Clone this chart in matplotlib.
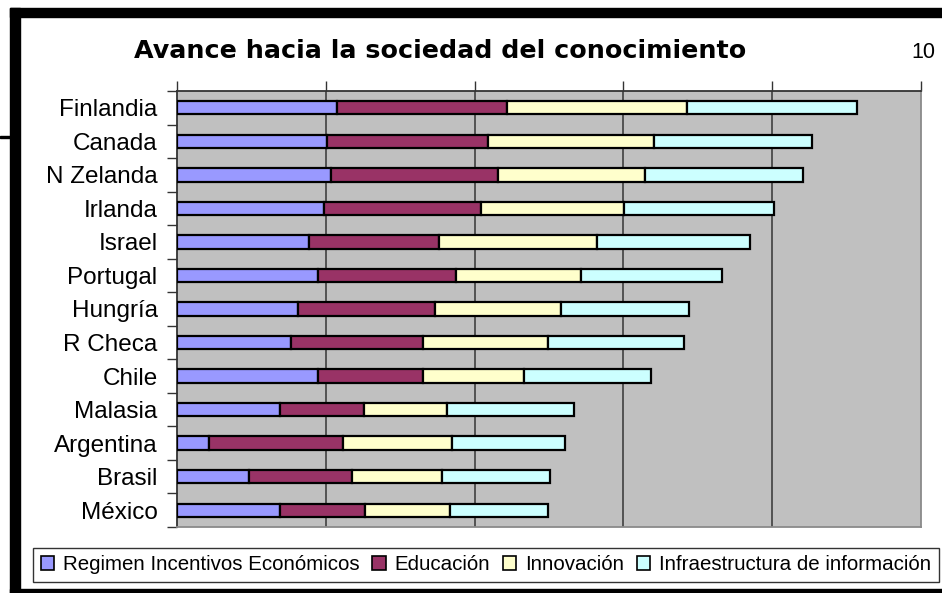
import numpy as np
import matplotlib.pyplot as plt
from matplotlib.patches import Rectangle, Patch
from matplotlib.ticker import MultipleLocator

plt.rcParams['font.family'] = ['Liberation Sans', 'DejaVu Sans']

countries = ["Finlandia", "Canada", "N Zelanda", "Irlanda", "Israel", "Portugal",
             "Hungría", "R Checa", "Chile", "Malasia", "Argentina", "Brasil", "México"]
# segment sizes
incentivos = [21.5, 20.2, 20.7, 19.8, 17.7, 18.9, 16.3, 15.3, 18.9, 13.9, 4.3, 9.7, 13.9]
educacion = [22.9, 21.6, 22.4, 21.0, 17.5, 18.6, 18.4, 17.7, 14.1, 11.3, 18.0, 13.8, 11.4]
innovacion = [24.1, 22.3, 19.8, 19.3, 21.3, 16.8, 16.9, 16.9, 13.7, 11.1, 14.7, 12.1, 11.4]
infraestructura = [22.9, 21.2, 21.2, 20.2, 20.5, 18.9, 17.2, 18.2, 17.0, 17.1, 15.2, 14.5, 13.2]

series = [incentivos, educacion, innovacion, infraestructura]
names = ["Regimen Incentivos Económicos", "Educación", "Innovación",
         "Infraestructura de información"]
colors = ["#9999ff", "#993366", "#ffffcc", "#ccffff"]

fig = plt.figure(figsize=(9.42, 5.93), dpi=100)

# black frame bits of the screenshot
fig.patches.append(Rectangle((10/942, 0), 10/942, 1 - 8/593, transform=fig.transFigure,
                             color='black', zorder=0))
fig.patches.append(Rectangle((10/942, 1 - 17/593), 1, 9/593, transform=fig.transFigure,
                             color='black', zorder=0))
fig.patches.append(Rectangle((10/942, 0), 1, 4/593, transform=fig.transFigure,
                             color='black', zorder=0))
fig.patches.append(Rectangle((0, 1 - 138/593), 10/942, 2/593, transform=fig.transFigure,
                             color='black', zorder=0))

ax = fig.add_axes([177/942, 1 - 527/593, 744/942, 436/593])
ax.set_facecolor('#c0c0c0')

y = np.arange(len(countries))
left = np.zeros(len(countries))
for vals, col, name in zip(series, colors, names):
    ax.barh(y, vals, left=left, height=0.4, color=col, edgecolor='black',
            linewidth=1.6, label=name, zorder=3)
    left += np.array(vals)

ax.set_xlim(0, 100)
ax.set_ylim(len(countries) - 0.5, -0.5)
ax.xaxis.set_major_locator(MultipleLocator(20))
ax.xaxis.tick_top()
ax.tick_params(axis='x', length=7, width=1, labeltop=False, color='#333333')
for gx in [20, 40, 60, 80]:
    ax.axvline(gx, color='#404040', linewidth=1.2, zorder=1)

ax.set_yticks(y)
ax.set_yticklabels(countries, fontsize=17.5)
ax.set_yticks(np.arange(len(countries) + 1) - 0.5, minor=True)
ax.tick_params(axis='y', which='major', length=0, pad=14)
ax.tick_params(axis='y', which='minor', length=7, width=1, color='#333333')

ax.spines['top'].set_color('#333333')
ax.spines['left'].set_color('#333333')
ax.spines['right'].set_color('#8a8a8a')
ax.spines['bottom'].set_color('#8a8a8a')
for s in ax.spines.values():
    s.set_linewidth(1.3)

fig.text(440/942, 1 - 51/593, "Avance hacia la sociedad del conocimiento",
         family='DejaVu Sans', fontweight='bold', fontsize=18.3, ha='center', va='center')
fig.text(923/942, 1 - 52/593, "10", fontsize=15.5, ha='center', va='center')

handles = [Patch(facecolor=c, edgecolor='black', linewidth=1.2) for c in colors]
leg = fig.legend(handles, names, loc='center', ncol=4,
                 bbox_to_anchor=(486/942, 1 - 565/593),
                 prop={'size': 14.8},
                 frameon=True, fancybox=False, edgecolor='black',
                 handlelength=0.65, handleheight=0.65, handletextpad=0.45,
                 columnspacing=0.6, borderpad=0.35, borderaxespad=0)
leg.get_frame().set_linewidth(1.0)

fig.savefig("out.png", dpi=100)
